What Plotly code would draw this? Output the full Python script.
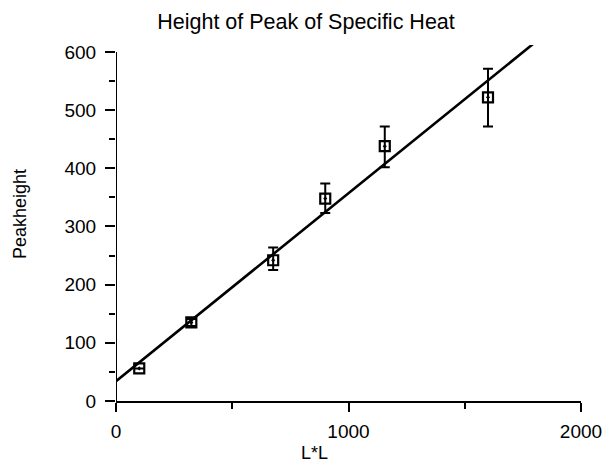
import numpy as np
import plotly.graph_objects as go

# Data
L_squared = [100, 324, 676, 900, 1156, 1600]
peak_height = [56, 135, 242, 348, 438, 522]
err_plus = [0, 6, 22, 26, 34, 49]
err_minus = [0, 6, 17, 25, 36, 50]

x_ticks = [0, 1000, 2000]
y_ticks = [0, 100, 200, 300, 400, 500, 600]

# Linear fit from the data
slope, intercept = np.polyfit(L_squared, peak_height, 1)
fit_x = [0, 1850]
fit_y = [intercept + slope * v for v in fit_x]

FONT = "Liberation Sans, Arial, Helvetica, sans-serif"

fig = go.Figure()
fig.add_trace(go.Scatter(
    x=fit_x, y=fit_y, mode="lines",
    line=dict(color="black", width=2.6),
    showlegend=False, hoverinfo="skip",
))
fig.add_trace(go.Scatter(
    x=L_squared, y=peak_height, mode="markers",
    marker=dict(symbol="square-open-dot", size=10, color="black",
                line=dict(width=2.2, color="black")),
    error_y=dict(type="data", symmetric=False, array=err_plus,
                 arrayminus=err_minus, color="black", thickness=2, width=5),
    showlegend=False,
))

# y axis line only up to 600
fig.add_shape(type="line", xref="x", yref="y", x0=0, x1=0, y0=0, y1=600,
              line=dict(color="black", width=2))

fig.add_annotation(text="L*L", xref="paper", yref="paper",
                   x=(317 - 116) / 472, y=(401 - 453) / 356,
                   xanchor="center", yanchor="middle",
                   showarrow=False, font=dict(family=FONT, size=18, color="black"))
fig.add_annotation(text="Peakheight", xref="paper", yref="paper",
                   x=(18 - 116) / 472, y=(401 - 213.5) / 356, textangle=-90,
                   xanchor="center", yanchor="middle",
                   showarrow=False, font=dict(family=FONT, size=18, color="black"))

fig.update_layout(
    width=614, height=469,
    margin=dict(l=116, r=26, t=45, b=68),
    paper_bgcolor="white", plot_bgcolor="white",
    title=dict(text="Height of Peak of Specific Heat", x=306 / 614, xanchor="center",
               y=1 - 21.5 / 469, yanchor="middle", yref="container",
               font=dict(family=FONT, size=21.5, color="black")),
    font=dict(family=FONT, size=19, color="black"),
)
fig.update_xaxes(
    range=[0, 2000], tickvals=x_ticks, ticktext=[str(v) for v in x_ticks],
    showline=True, linecolor="black", linewidth=2,
    ticks="outside", ticklen=9, tickwidth=2, tickcolor="black",
    minor=dict(tickvals=[500, 1500], ticks="outside", ticklen=6, tickwidth=2, tickcolor="black"),
    showgrid=False, zeroline=False, ticklabelstandoff=3,
    tickfont=dict(family=FONT, size=19, color="black"),
)
fig.update_yaxes(
    range=[0, 612], tickvals=y_ticks, ticktext=[str(v) for v in y_ticks],
    showline=False,
    ticks="outside", ticklen=10, tickwidth=2, tickcolor="black",
    minor=dict(tickvals=[50, 150, 250, 350, 450, 550], ticks="outside", ticklen=6, tickwidth=2, tickcolor="black"),
    showgrid=False, zeroline=False, ticklabelstandoff=5,
    tickfont=dict(family=FONT, size=19, color="black"),
)

fig.write_html("out.html")
